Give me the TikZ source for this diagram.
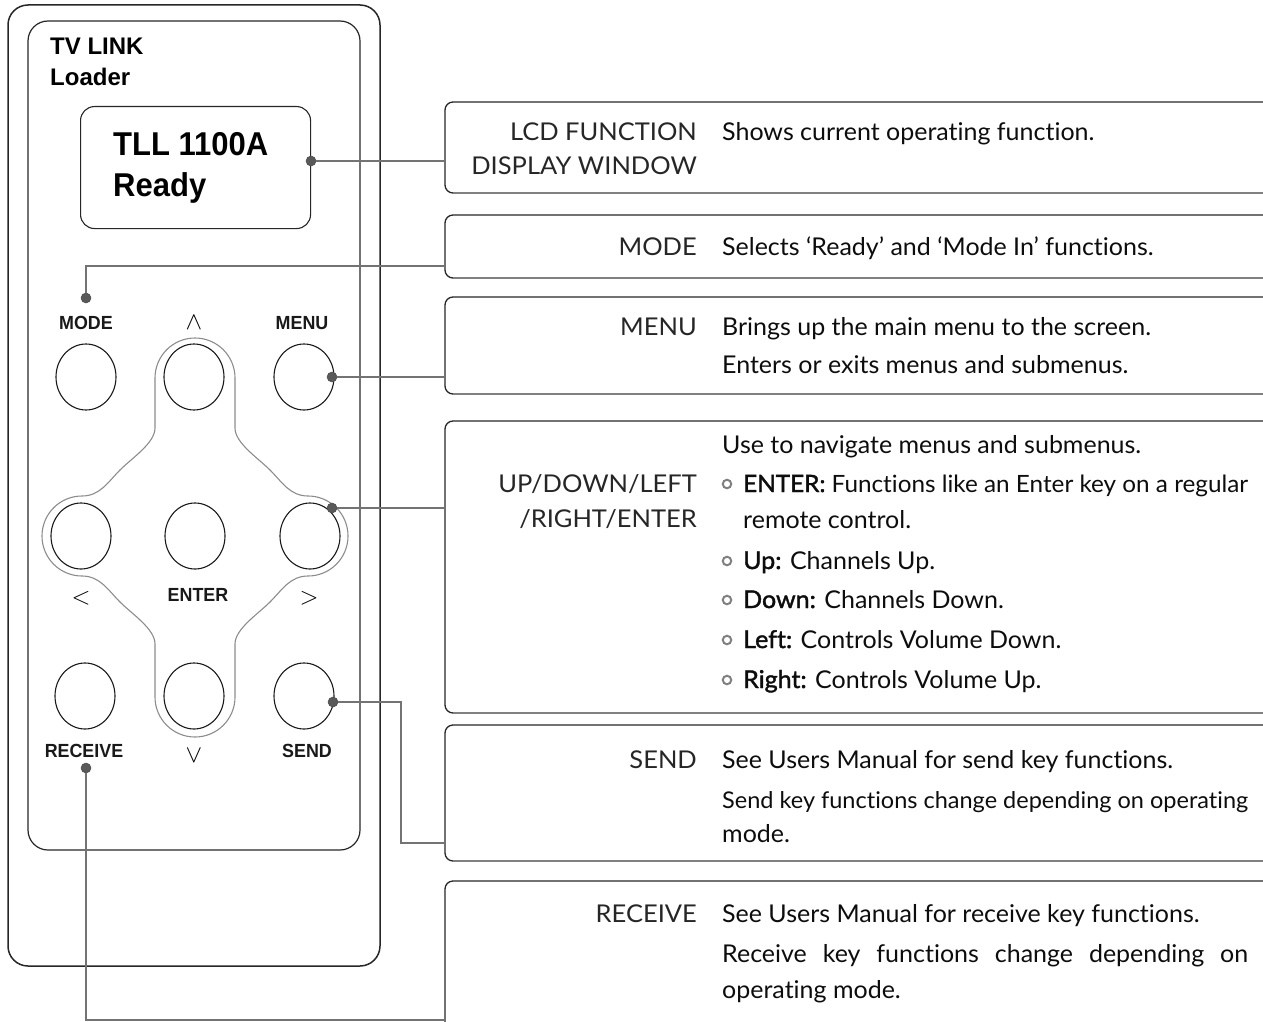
\documentclass[tikz,border=0pt]{standalone}
\usepackage{fontspec}
\usepackage{graphicx}
\setmainfont[Ligatures=NoCommon, FakeStretch=1.02]{Lato}
\newfontfamily\capfont[Ligatures=NoCommon, FakeStretch=1.04]{Lato}
\newfontfamily\semib[Ligatures=NoCommon, FakeStretch=1.02, FakeBold=1.6]{Lato}
\newfontfamily\remfont[FakeStretch=0.94]{Liberation Sans}
\newfontfamily\remfontw{Liberation Sans}
\usetikzlibrary{shapes.geometric}
\newcommand\panelbox[2]{%
  \draw[panelline, rounded corners=8pt] (1275,#1) -- (445,#1) -- (445,#2) -- (1275,#2);
  \draw[pbottom] (453,#2) -- (1275,#2);}
\newcommand\semiword[1]{{\semib #1}}
\begin{document}
\begin{tikzpicture}[x=1pt,y=-1pt,
  btn/.style={draw=black!90, line width=1.1pt, ellipse, minimum width=60pt, minimum height=66pt, inner sep=0},
  leaddot/.style={circle, fill=black!65, draw=black!70, line width=0.5pt, minimum size=10pt, inner sep=0},
  lead/.style={draw=black!55, line width=1.4pt},
  keylbl/.style={font=\remfont\bfseries\fontsize{19}{19}\selectfont, text=black!90, inner sep=0, anchor=base},
  symlbl/.style={font=\fontsize{24}{24}\selectfont, inner sep=0},
  caplbl/.style={font=\capfont\fontsize{24.5}{24.5}\selectfont, text=black!85, inner sep=0, anchor=base east},
  desclbl/.style={font=\fontsize{24.5}{24.5}\selectfont, text=black!95, inner sep=0, anchor=base west},
  panelline/.style={draw=black!85, line width=1.3pt},
  pbottom/.style={draw=black!50, line width=2pt},
  ringmark/.style={circle, draw=black!50, line width=2pt, minimum size=8.5pt, inner sep=0},
  bigt/.style={font=\remfont\bfseries\fontsize{33}{33}\selectfont, inner sep=0, anchor=base west},
  midt/.style={font=\remfontw\bfseries\fontsize{24}{24}\selectfont, inner sep=0, anchor=base west}
]
\useasboundingbox (0,0) rectangle (1263,1022);
% remote body
\draw[line width=1.5pt, black!85, rounded corners=20pt] (8,5) rectangle (380,966);
\draw[line width=1.2pt, black!85, rounded corners=20pt] (28,21) rectangle (360,850);
\node[draw=black!85, rounded corners=14pt, line width=1.1pt, minimum width=230pt, minimum height=122pt, inner sep=0, anchor=north west] (lcd) at (80,106) {};
\node[midt] (tvlink) at (50,55) {TV LINK};
\node[midt] (loader) at (50,86) {Loader};
\node[bigt] (tll) at (113,155) {TLL 1100A};
\node[bigt] (ready) at (113,196) {Ready};
% d-pad outline
\draw[black!45, line width=1.1pt]
  (155,428) -- (155,378) arc[start angle=180, end angle=360, radius=40]
  -- (235,428) .. controls (235,443) and (258,458) .. (270,470)
  .. controls (282,482) and (290,496) .. (308,496)
  arc[start angle=270, end angle=450, radius=40]
  .. controls (290,576) and (282,590) .. (270,602)
  .. controls (258,614) and (235,629) .. (235,644)
  -- (235,697) arc[start angle=0, end angle=180, radius=40]
  -- (155,644) .. controls (155,629) and (132,614) .. (120,602)
  .. controls (108,590) and (100,576) .. (82,576)
  arc[start angle=90, end angle=270, radius=40]
  .. controls (100,496) and (108,482) .. (120,470)
  .. controls (132,458) and (155,443) .. (155,428) -- cycle;
% buttons
\node[btn] (bmode) at (86,377) {};
\node[btn] (bup) at (194,377) {};
\node[btn] (bmenu) at (304,377) {};
\node[btn] (bleft) at (81,536) {};
\node[btn] (benter) at (195,536) {};
\node[btn] (bright) at (310,536) {};
\node[btn] (brecv) at (85,696) {};
\node[btn] (bdown) at (194,696) {};
\node[btn] (bsend) at (304,696) {};
% key labels
\node[keylbl] (lmode) at (86,329) {MODE};
\node[keylbl] (lmenu) at (302,329) {MENU};
\node[keylbl] (lenter) at (198,601) {ENTER};
\node[keylbl] (lrecv) at (84,757) {RECEIVE};
\node[keylbl] (lsend) at (307,757) {SEND};
\node[symlbl, anchor=base] (supk) at (194,329) {$\wedge$};
\node[symlbl, anchor=base] (sdownk) at (194,762) {$\vee$};
\node[symlbl] (sleftk) at (81,598) {$<$};
\node[symlbl] (srightk) at (309,598) {$>$};
% panels
\panelbox{102}{193}
\panelbox{215}{278}
\panelbox{297}{394}
\panelbox{421}{713}
\panelbox{725}{861}
\panelbox{881}{1040}
% panel texts
\node[caplbl] (c1a) at (697,141) {LCD FUNCTION};
\node[caplbl] (c1b) at (697,175) {DISPLAY WINDOW};
\node[desclbl] (d1) at (722,141) {Shows current operating function.};
\node[caplbl] (c2) at (697,255) {MODE};
\node[desclbl] (d2) at (722,255) {Selects ‘Ready’ and ‘Mode In’ functions.};
\node[caplbl] (c3) at (697,335) {MENU};
\node[desclbl] (d3a) at (722,335) {Brings up the main menu to the screen.};
\node[desclbl] (d3b) at (722,373) {Enters or exits menus and submenus.};
\node[desclbl] (d4a) at (722,453) {Use to navigate menus and submenus.};
\node[caplbl] (c4a) at (697,492) {UP/DOWN/LEFT};
\node[caplbl] (c4b) at (697,527) {/RIGHT/ENTER};
\node[desclbl] (d4b) at (743,492) {\resizebox{505pt}{!}{\semiword{ENTER:} Functions like an Enter key on a regular}};
\node[desclbl] (d4c) at (743,528) {remote control.};
\node[desclbl] (d4d) at (743,569) {\semiword{Up:} Channels Up.};
\node[desclbl] (d4e) at (743,608) {\semiword{Down:} Channels Down.};
\node[desclbl] (d4f) at (743,648) {\semiword{Left:} Controls Volume Down.};
\node[desclbl] (d4g) at (743,688) {\semiword{Right:} Controls Volume Up.};
\node[ringmark] (r1) at (727,484) {};
\node[ringmark] (r2) at (727,561) {};
\node[ringmark] (r3) at (727,600) {};
\node[ringmark] (r4) at (727,640) {};
\node[ringmark] (r5) at (727,680) {};
\node[caplbl] (c5) at (697,768) {SEND};
\node[desclbl] (d5a) at (722,768) {See Users Manual for send key functions.};
\node[desclbl] (d5b) at (722,808) {\resizebox{526pt}{!}{Send key functions change depending on operating}};
\node[desclbl] (d5c) at (722,842) {mode.};
\node[caplbl] (c6) at (697,922) {RECEIVE};
\node[desclbl] (d6a) at (722,922) {See Users Manual for receive key functions.};
\node[desclbl] (d6b) at (722,962) {\makebox[526pt][s]{Receive key functions change depending on}};
\node[desclbl] (d6c) at (722,998) {operating mode.};
% dots and leaders
\node[leaddot] (dlcd) at (311,161) {};
\node[leaddot] (dmode) at (86,298) {};
\node[leaddot] (dmenu) at (332,377) {};
\node[leaddot] (dpad) at (332,508) {};
\node[leaddot] (dsend) at (333,702) {};
\node[leaddot] (drecv) at (86,768) {};
\coordinate (e1) at (445,161);
\coordinate (e2) at (445,266);
\coordinate (e3) at (445,377);
\coordinate (e4) at (445,508);
\coordinate (e5) at (445,843);
\coordinate (e6) at (445,1020);
\coordinate (ks) at (401,780);
\draw[lead] (dlcd) -- (e1);
\draw[lead] (dmode) |- (e2);
\draw[lead] (dmenu) -- (e3);
\draw[lead] (dpad) -- (e4);
\draw[lead] (dsend) -| (ks) |- (e5);
\draw[lead] (drecv) |- (e6);
\end{tikzpicture}
\end{document}
